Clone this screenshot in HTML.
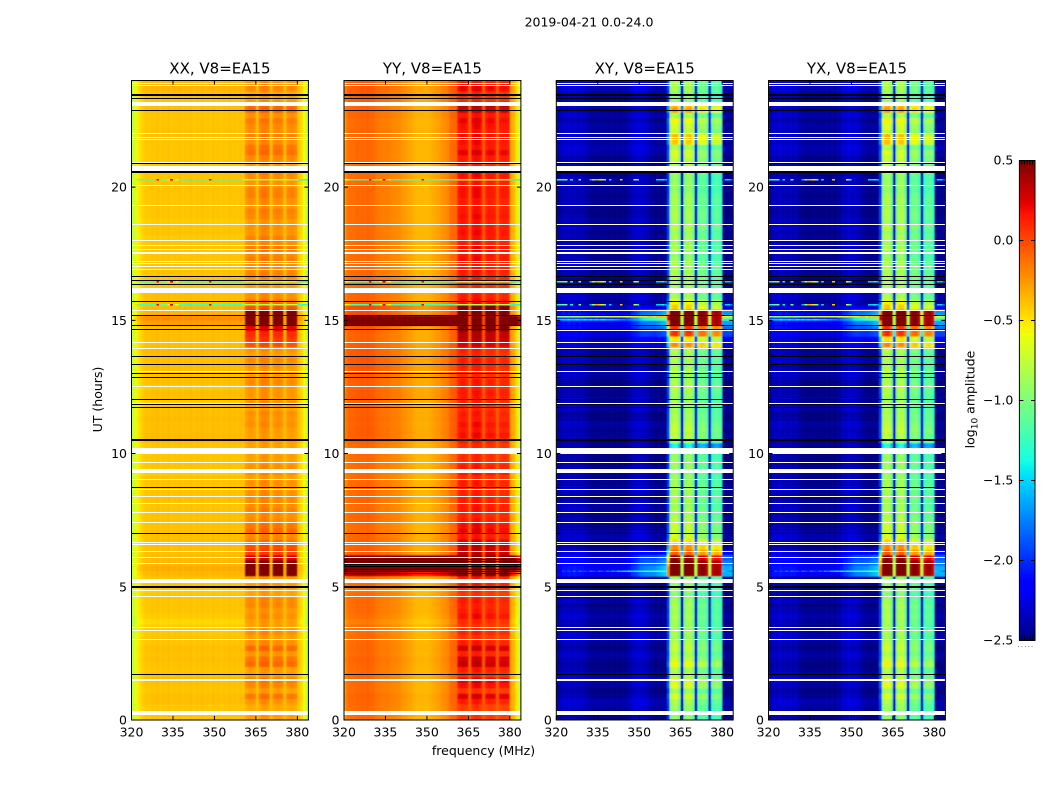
<!DOCTYPE html>
<html lang="en">
<head>
<meta charset="utf-8">
<title>2019-04-21 0.0-24.0</title>
<style>
html,body{margin:0;padding:0;background:#fff;width:1050px;height:800px;overflow:hidden}
svg{display:block}
text{font-family:"DejaVu Sans",sans-serif;fill:#000}
</style>
</head>
<body>
<svg id="chart" xmlns="http://www.w3.org/2000/svg" width="1050" height="800" viewBox="0 0 1050 800">
  <defs>
    <filter id="soft" x="-2%" y="-2%" width="104%" height="104%"><feGaussianBlur stdDeviation="0.5"/></filter>
  </defs>
  <text x="589" y="26.5" font-size="12.5" text-anchor="middle">2019-04-21 0.0-24.0</text>
  <text x="483.5" y="755" font-size="12.5" text-anchor="middle">frequency (MHz)</text>
  <text transform="translate(102,399.5) rotate(-90)" font-size="12.5" text-anchor="middle">UT (hours)</text>
  <text transform="translate(974.5,399.5) rotate(-90)" font-size="12.5" text-anchor="middle">log<tspan font-size="9" dy="3">10</tspan><tspan dy="-3"> amplitude</tspan></text>
  <g id="panels"></g>
  <g id="cbar"></g>
</svg>
<script>
/* ---------- axis tick data ---------- */
const freqTicks = [320, 335, 350, 365, 380];
const timeTicks = [0, 5, 10, 15, 20];
const cbarTicks = [-2.5, -2, -1.5, -1, -0.5, 0, 0.5];

/* ---------- mean spectra, log10 amplitude per 1 MHz bin from 320 MHz ---------- */
const spectrumXX = [
 -.76,-.64,-.52,-.46,-.42,-.40,-.41,-.39,-.40,-.38,
 -.41,-.39,-.40,-.38,-.41,-.39,-.40,-.38,-.41,-.39,
 -.40,-.38,-.41,-.39,-.40,-.38,-.40,-.39,-.41,-.38,
 -.40,-.39,-.41,-.39,-.40,-.38,-.40,-.39,-.40,-.38,
 -.40,-.36,-.32,-.32,-.34,-.38,-.32,-.28,-.28,-.30,
 -.38,-.34,-.31,-.31,-.34,-.38,-.34,-.32,-.32,-.36,
 -.40,-.46,-.58,-.74];
const spectrumYY = [
 -.22,-.13,-.12,-.12,-.10,-.10,-.09,-.10,-.08,-.10,
 -.10,-.14,-.15,-.16,-.17,-.16,-.18,-.20,-.20,-.21,
 -.22,-.26,-.27,-.29,-.30,-.34,-.35,-.35,-.35,-.36,
 -.35,-.33,-.31,-.29,-.28,-.24,-.22,-.20,-.12,-.10,
 -.08,.02,.05,.05,.02,-.06,.04,.08,.08,.04,
 -.06,.00,.03,.03,.00,-.06,.00,.02,.02,.00,
 -.30,-.36,-.50,-.72];
const spectrumXY = [
 -2.50,-2.42,-2.38,-2.40,-2.36,-2.40,-2.37,-2.40,-2.38,-2.40,
 -2.42,-2.46,-2.48,-2.50,-2.48,-2.50,-2.48,-2.50,-2.50,-2.50,
 -2.50,-2.50,-2.50,-2.50,-2.50,-2.48,-2.44,-2.38,-2.35,-2.34,
 -2.34,-2.36,-2.38,-2.42,-2.46,-2.50,-2.50,-2.50,-2.50,-2.50,
 -2.0,-1.00,-.90,-.90,-1.10,-2.40,-1.05,-.92,-.92,-1.10,
 -2.40,-1.20,-1.12,-1.12,-1.25,-2.40,-1.30,-1.20,-1.20,-1.30,
 -2.50,-2.50,-2.50,-2.50];
const spectrumYX = [
 -2.50,-2.40,-2.38,-2.38,-2.36,-2.40,-2.38,-2.40,-2.40,-2.40,
 -2.42,-2.48,-2.48,-2.50,-2.50,-2.50,-2.48,-2.50,-2.50,-2.50,
 -2.50,-2.50,-2.50,-2.50,-2.50,-2.46,-2.42,-2.38,-2.35,-2.34,
 -2.36,-2.36,-2.38,-2.44,-2.46,-2.50,-2.50,-2.50,-2.50,-2.50,
 -2.0,-1.00,-.88,-.88,-1.10,-2.40,-1.05,-.90,-.90,-1.10,
 -2.40,-1.20,-1.10,-1.10,-1.25,-2.40,-1.28,-1.18,-1.18,-1.30,
 -2.50,-2.50,-2.50,-2.50];

/* ---------- how strongly band activity reaches each frequency bin ---------- */
const bandWeightCo = [
 0,0,0,0,0,0,0,0,0,0, 0,0,0,0,0,0,0,0,0,0,
 0,0,0,0,0,0,0,0,0,0, 0,0,0,0,0,0,0,0,0,0,
 0,1,1,1,1,.1,1,1,1,1, .1,1,1,1,1,.1,1,1,1,1,
 0,0,0,0];
const bandWeightCross = [
 0,0,0,0,0,0,0,0,0,0, 0,0,0,0,0,0,0,0,0,0,
 0,0,0,0,0,0,0,0,0,0, 0,0,0,0,0,0,0,0,0,0,
 .5,1,1,1,1,1,1,1,1,1, 1,1,1,1,1,1,1,1,1,1,
 0,0,0,0];
const shoulderWeight = [
 .25,.25,.25,.25,.25,.25,.25,.25,.25,.25, .25,.25,.25,.25,.25,.25,.25,.25,.25,.25,
 .25,.25,.25,.25,.25,.3,.3,.35,.35,.4, .5,.55,.6,.65,.7,.75,.8,.85,.9,.95,
 1,0,0,0,0,0,0,0,0,0, 0,0,0,0,0,0,0,0,0,0,
 .85,.85,.85,.85];

/* ---------- activity per 0.2 h row, from UT 0 upward ---------- */
const bandRowXX = [
 .05,.00,.02,.08,.18,.04,.12,.16,.06,.05,
 .22,.18,.08,.22,.10,.05,.10,.05,.05,.10,
 .07,.12,.12,.04,.05,.06,.08,.85,.85,.85,
 .60,.35,.32,.18,.12,.22,.18,.12,.10,.14,
 .10,.12,.10,.08,.10,.05,.10,.10,.05,.05,
 .03,.04,.06,.05,.06,.10,.08,.10,.05,.10,
 .07,.08,.08,.12,.08,.05,.08,.12,.05,.08,
 .30,.38,.42,.55,.85,.85,.85,.30,.20,.10,
 .08,.06,.08,.14,.12,.10,.15,.12,.16,.10,
 .14,.08,.10,.06,.12,.14,.08,.10,.15,.14,
 .08,.10,.12,.06,.08,.12,.20,.18,.10,.15,
 .10,.12,.16,.08,.24,.22,.06,.02,.12,.10];
const bandRowYY = [
 .02,.00,.00,.10,.22,.02,.15,.20,.05,.10,
 .28,.24,.08,.25,.10,.02,.08,.02,.05,.15,
 .10,.08,.10,.02,.05,.10,.10,.55,.55,.50,
 .50,.28,.28,.20,.10,.18,.15,.10,.08,.12,
 .10,.10,.08,.08,.10,.04,.12,.10,.05,.05,
 .05,.04,.10,.15,.10,.14,.08,.10,.05,.08,
 .10,.12,.08,.10,.06,.06,.08,.10,.06,.08,
 .22,.30,.30,.55,.65,.65,.65,.55,.15,.10,
 .06,.05,.08,.10,.12,.10,.14,.12,.15,.10,
 .12,.14,.12,.10,.14,.12,.10,.10,.14,.14,
 .10,.12,.14,.10,.08,.12,.20,.12,.14,.15,
 .12,.15,.18,.12,.26,.30,.05,.05,.18,.12];
const bandRowCross = [
 .00,.00,.05,.10,.25,.05,.30,.25,.10,.10,
 .35,.20,.10,.20,.15,.05,.10,.05,.05,.10,
 .05,.10,.05,-.05,.05,.00,.05,1.6,1.6,1.6,
 1.4,.85,.70,.45,.25,.20,.20,.15,.10,.10,
 .05,.10,.05,.10,.05,.05,.00,.05,.05,.00,
 .00,-.45,.10,.15,.20,.15,.10,.10,.05,.10,
 .05,.10,.15,.10,.05,.15,.05,.10,.05,.15,
 .70,.40,1.0,1.0,1.6,1.6,1.6,.50,.35,.10,
 .05,.10,.10,.10,.10,.10,.05,.00,.10,.05,
 .10,.05,.15,.05,.10,.10,.05,.10,.05,.00,
 .05,.00,.05,.10,.15,.20,.25,.10,.50,.55,
 .20,.25,.35,.10,.65,.55,.00,.00,.10,.10];
const floorRowXX = [
 .00,.00,-.01,.02,.02,.00,.01,.02,.01,.00,
 .01,.02,.01,.02,.00,.00,-.01,-.02,-.06,-.02,
 .00,.00,.00,.00,-.02,.00,.00,.04,.08,.04,
 .03,.02,.02,.02,.02,.01,.01,.01,.01,.00,
 .00,.02,.00,.01,.00,.01,-.02,.00,.00,.00,
 .00,.00,.03,.03,.02,.02,.03,.02,.02,-.02,
 .02,.02,-.01,.02,.02,.01,.02,.02,.03,.04,
 .02,.02,.02,.03,.12,.18,.06,.03,.02,.02,
 .02,.00,.00,.00,.01,.00,.00,.00,.00,.00,
 -.02,.00,.00,-.02,.00,.00,.00,.00,.00,.00,
 .00,.00,.00,.00,.00,.00,.00,.00,.00,.02,
 .01,.00,.00,.00,.02,.02,.00,.02,.05,.05];
const floorRowYY = [
 .00,.00,.00,.01,.02,.00,.00,.01,.00,.00,
 .01,.02,.00,.01,.00,.00,-.01,-.02,-.06,-.02,
 .00,.00,.00,.00,-.03,.00,.00,.50,1.0,1.0,
 .85,.05,.03,.03,.02,.00,.00,.02,.02,.00,
 .00,.02,.00,.02,.00,.00,.00,.00,.00,.00,
 .00,.00,.03,.04,.04,.03,.04,.03,.03,.02,
 .05,.05,.03,.04,.05,.05,.06,.06,.06,.06,
 .05,.03,.03,.05,1.0,1.0,.10,.10,.02,.02,
 .02,.00,.00,.00,.00,.00,.00,.00,.00,.00,
 .00,.00,.00,.00,.00,.00,.00,.00,.00,.00,
 .00,.00,.00,.00,.00,.00,.00,.00,.00,.01,
 .01,.00,.00,.02,.02,.02,.04,.04,.05,.06];
const floorRowCross = [
 .00,.00,.08,.12,.05,.00,.05,.15,.10,.02,
 .00,.05,.08,.00,.05,.10,.10,.02,.05,.10,
 .05,.00,.08,.00,.02,.05,.00,.05,.05,.05,
 .05,.05,.00,.05,.10,.05,.02,.05,.00,.08,
 .05,.00,.02,.08,.02,.00,.05,.02,.00,.00,
 .05,.02,.00,.05,.02,.08,.00,-.02,.08,.03,
 .05,.02,.05,.00,.08,.05,.00,.08,.02,.05,
 .10,.05,.10,.10,.05,.10,.05,.10,.05,.10,
 .05,.02,.00,.02,.05,.10,.02,.05,.00,.05,
 .05,.02,.10,.05,.02,-.02,.02,.05,.02,.05,
 .02,.05,.00,-.02,.05,.02,.08,.12,.05,.10,
 .05,.10,.02,.10,.05,.12,.05,.08,.12,.10];
const shoulderRowCross = [
 0,0,0,0,0,0,0,0,0,0,
 0,0,0,0,0,0,0,0,0,0,
 0,0,0,0,0,0,.05,1.0,1.0,.8,
 .7,.3,.05,0,0,0,0,0,0,0,
 0,0,0,0,0,0,0,0,0,0,
 0,0,0,0,0,0,0,0,0,0,
 0,0,0,0,0,0,0,0,0,0,
 .15,.3,.55,.7,.95,1.5,.9,.2,0,0,
 0,0,0,0,0,0,0,0,0,0,
 0,0,0,0,0,0,0,0,0,0,
 0,0,0,0,0,0,0,0,0,0,
 0,0,0,0,0,0,0,0,0,0];

/* ---------- interference rows: UT hours and spectrum values ---------- */
const spikeHours = [20.27, 16.45, 15.58];
const spikeCo = [
 -.6,-.5,-1.1,-1.2,-1.2,-1.2,-1.2,-1.2,-1.2,.2,
 -1.2,-1.1,-1.1,-.6,.25,-1.0,-.6,-1.2,-1.2,-1.2,
 -1.3,-1.3,-1.2,-1.2,-1.2,-1.2,-1.2,-1.2,.2,-1.2,
 -1.2,-1.2,-1.2,-1.2,-1.2,-1.2,-1.2,-1.2,-1.2,-1.2,
 -1.0,-.8,-.8,-.8,-.8,-.8,-.8,-.8,-.8,-.8,
 -.8,-.8,-.8,-.8,-.8,-.8,-.8,-.8,-.8,-.8,
 -1.3,-1.3,-1.3,-1.3];
const spikeCross = [
 -1.4,-1.2,-1.1,-1.0,-2.4,-1.4,-2.4,-2.4,-1.0,-2.4,
 -2.4,-2.4,-1.6,-.9,-.3,-.4,-.7,-1.0,-2.2,-1.5,
 -2.4,-2.4,-2.4,-.4,-2.4,-2.4,-2.4,-2.4,-.6,-1.3,
 -2.4,-2.4,-2.4,-2.4,-2.4,-2.4,-1.5,-1.5,-1.4,-1.6,
 null,null,null,null,null,null,null,null,null,null,
 null,null,null,null,null,null,null,null,null,null,
 -2.0,-1.5,-1.5,-1.8];
const streakHours = [15.14, 15.02, 5.58];
const streakUpper = [
 -1.0,-1.0,-.9,-.9,-1.0,-.9,-.9,-.8,-.9,-.8,
 -.9,-.8,-.8,-.8,-.7,-.8,-.7,-.8,-.7,-.7,
 -.7,-.7,-.6,-.7,-.6,-.6,-.6,-.5,-.6,-.5,
 -.5,-.5,-.5,-.4,-.4,-.5,-.4,-.4,-.4,-.4,
 null,null,null,null,null,null,null,null,null,null,
 null,null,null,null,null,null,null,null,null,null,
 -.5,-.6,-.7,-.8];
const streakLower = [
 -1.6,-1.5,-1.5,-1.5,-1.4,-1.5,-1.5,-1.4,-1.5,-1.5,
 -1.4,-1.5,-1.4,-1.5,-1.4,-1.5,-1.4,-1.4,-1.5,-1.5,
 -1.5,-1.6,-1.6,-1.7,-1.7,-1.8,-1.7,-1.7,-1.6,-1.6,
 -1.5,-1.4,-1.4,-1.3,-1.3,-1.2,-1.2,-1.2,-1.1,-1.1,
 null,null,null,null,null,null,null,null,null,null,
 null,null,null,null,null,null,null,null,null,null,
 -1.3,-1.3,-1.4,-1.4];
const streakFive = [
 -2.3,-2.2,-1.9,-2.0,-1.9,-2.0,-1.8,-2.0,-1.8,-1.9,
 -1.9,-2.0,-1.8,-1.9,-2.0,-1.8,-1.9,-2.0,-1.8,-1.9,
 -1.7,-1.8,-1.6,-1.6,-1.5,-1.5,-1.4,-1.5,-1.4,-1.4,
 -1.4,-1.3,-1.3,-1.3,-1.3,-1.2,-1.2,-1.2,-1.2,-1.2,
 null,null,null,null,null,null,null,null,null,null,
 null,null,null,null,null,null,null,null,null,null,
 -1.5,-1.6,-1.7,-1.8];

/* ---------- flagged times, UT hours ---------- */
const whiteLines = [23.90,23.80,22.00,21.87,21.78,20.91,20.07,19.30,18.59,17.99,17.79,17.66,17.56,17.49,17.22,17.13,17.03,16.91,15.36,14.16,13.94,13.08,12.51,11.89,9.66,9.04,8.66,8.40,8.13,7.79,7.41,6.66,6.59,6.34,6.10,5.88,4.86,4.64,3.48,3.03];
const whiteBandStart = [23.025,20.63,16.02,9.99,9.26,5.14,3.31,1.47,0.19];
const whiteBandEnd = [23.19,20.81,16.20,10.21,9.41,5.29,3.36,1.54,0.34];
const whiteLinesCross = [14.62];
const blackLines = [23.49,23.42,23.34,22.89,20.88,16.66,16.50,16.35,15.72,15.20,14.79,14.65,13.64,13.34,12.99,12.86,12.03,11.85,11.73,9.02,8.73,8.38,7.00,1.71];
const blackBandStart = [20.53,10.44,4.96];
const blackBandEnd = [20.60,10.53,5.03];
const blackLinesYY = [6.03,5.96,5.84,5.75,5.66,5.59,5.51];

/* ---------- scales ---------- */
const NS = 'http://www.w3.org/2000/svg';
const freqMin = 320, freqMax = 384, timeMin = 0, timeMax = 24, rowHours = 0.2;
const plotTop = 80.5, plotBottom = 720, plotWidth = 176.9;
const vMin = -2.5, vMax = 0.5;
function yScale(t){ return plotBottom - (t - timeMin) / (timeMax - timeMin) * (plotBottom - plotTop); }
function makeXScale(left){ return f => left + (f - freqMin) / (freqMax - freqMin) * plotWidth; }
function lerpStops(p, stops){
  for (let i = 1; i < stops.length; i++) {
    if (p <= stops[i][0]) {
      const a = stops[i-1], b = stops[i];
      return a[1] + (b[1]-a[1]) * (p-a[0]) / (b[0]-a[0]);
    }
  }
  return stops[stops.length-1][1];
}
const jetR = [[0,0],[.35,0],[.66,1],[.89,1],[1,.5]];
const jetG = [[0,0],[.125,0],[.375,1],[.64,1],[.91,0],[1,0]];
const jetB = [[0,.5],[.11,1],[.34,1],[.65,0],[1,0]];
function colour(v){
  const p = Math.max(0, Math.min(1, (v - vMin) / (vMax - vMin)));
  const c = [jetR, jetG, jetB].map(s => Math.round(255 * lerpStops(p, s)));
  return 'rgb(' + c.join(',') + ')';
}
function node(tag, parent, attrs){
  const el = document.createElementNS(NS, tag);
  for (const k in attrs) el.setAttribute(k, attrs[k]);
  parent.appendChild(el);
  return el;
}

/* ---------- panels ---------- */
const panels = [
  {key:'xx', title:'XX, V8=EA15', left:131.5, spectrum:spectrumXX, bandWeight:bandWeightCo, bandRow:bandRowXX, floorRow:floorRowXX, shoulderRow:null, spikes:spikeCo, streaks:null, extraWhite:[], extraBlack:[]},
  {key:'yy', title:'YY, V8=EA15', left:344, spectrum:spectrumYY, bandWeight:bandWeightCo, bandRow:bandRowYY, floorRow:floorRowYY, shoulderRow:null, spikes:spikeCo, streaks:null, extraWhite:[], extraBlack:blackLinesYY},
  {key:'xy', title:'XY, V8=EA15', left:556.3, spectrum:spectrumXY, bandWeight:bandWeightCross, bandRow:bandRowCross, floorRow:floorRowCross, shoulderRow:shoulderRowCross, spikes:spikeCross, streaks:[streakUpper,streakLower,streakFive], extraWhite:whiteLinesCross, extraBlack:[]},
  {key:'yx', title:'YX, V8=EA15', left:768.5, spectrum:spectrumYX, bandWeight:bandWeightCross, bandRow:bandRowCross, floorRow:floorRowCross, shoulderRow:shoulderRowCross, spikes:spikeCross, streaks:[streakUpper,streakLower,streakFive], extraWhite:whiteLinesCross, extraBlack:[]}
];

function flagBar(group, x, w, t0, t1, fill){
  const y = Math.round(yScale(t1)), h = Math.max(1, Math.round(yScale(t0) - yScale(t1)));
  const r = node('rect', group, {x:x, y:y, width:w, height:h, fill:fill, 'shape-rendering':'crispEdges'});
  
  
}
function thinRow(group, xs, values, t){
  values.forEach((v, f) => {
    if (v === null) return;
    const x0 = xs(freqMin + f), x1 = xs(freqMin + f + 1), y = yScale(t);
    const r = node('rect', group, {x:x0, y:y - 0.75, width:x1 - x0, height:1.5, fill:colour(v), 'shape-rendering':'crispEdges'});
    
    
  });
}

const root = document.getElementById('panels');
panels.forEach(p => {
  const xs = makeXScale(p.left);
  const g = node('g', root, {});
  
  

  const clipId = 'clip-' + p.key;
  const clip = node('clipPath', g, {id:clipId});
  node('rect', clip, {x:p.left, y:plotTop, width:plotWidth, height:plotBottom - plotTop});

  const holder = node('g', g, {'clip-path':'url(#' + clipId + ')'});
  
  
  const cells = node('g', holder, {filter:'url(#soft)'});
  
  

  p.bandRow.forEach((_, r) => {
    const t0 = timeMin + r * rowHours, t1 = t0 + rowHours;
    p.spectrum.forEach((base, f) => {
      const w = p.bandWeight[f];
      let v = base + w * p.bandRow[r];
      if (w === 0) v += p.floorRow[r];
      if (p.shoulderRow) v += shoulderWeight[f] * p.shoulderRow[r];
      const x0 = xs(freqMin + f), x1 = xs(freqMin + f + 1), y = yScale(t1);
      const c = document.createElementNS(NS, 'rect');
      c.setAttribute('x', x0);
      c.setAttribute('y', y);
      c.setAttribute('width', x1 - x0 + 0.3);
      c.setAttribute('height', yScale(t0) - y + 0.3);
      c.setAttribute('fill', colour(v));
      
      
      cells.appendChild(c);
    });
  });

  const overlay = node('g', holder, {});
  
  
  spikeHours.forEach(t => thinRow(overlay, xs, p.spikes, t));
  if (p.streaks) p.streaks.forEach((s, i) => thinRow(overlay, xs, s, streakHours[i]));
  const thin = 0.018;
  blackLines.concat(p.extraBlack).forEach(t => flagBar(overlay, p.left, plotWidth, t - thin, t + thin, '#000'));
  blackBandStart.forEach((t, i) => flagBar(overlay, p.left, plotWidth, t, blackBandEnd[i], '#000'));
  whiteLines.concat(p.extraWhite).forEach(t => flagBar(overlay, p.left, plotWidth, t - thin, t + thin, '#fff'));
  whiteBandStart.forEach((t, i) => flagBar(overlay, p.left, plotWidth, t, whiteBandEnd[i], '#fff'));

  const frame = node('rect', g, {x:p.left, y:plotTop, width:plotWidth, height:plotBottom - plotTop, fill:'none', stroke:'#000', 'stroke-width':1});
  
  

  freqTicks.forEach(f => {
    const x = xs(f);
    const a = node('path', g, {d:'M' + x + ' ' + plotBottom + 'v-4M' + x + ' ' + plotTop + 'v4', stroke:'#000', 'stroke-width':1, fill:'none'});
    
    
    const l = node('text', g, {x:x, y:plotBottom + 16.5, 'font-size':12.5, 'text-anchor':'middle'});
    
    
    l.textContent = f;
  });
  timeTicks.forEach(t => {
    const y = yScale(t);
    const a = node('path', g, {d:'M' + p.left + ' ' + y + 'h4M' + (p.left + plotWidth) + ' ' + y + 'h-4', stroke:'#000', 'stroke-width':1, fill:'none'});
    
    
    const l = node('text', g, {x:p.left - 4.5, y:y + 4.5, 'font-size':12.5, 'text-anchor':'end'});
    
    
    l.textContent = t;
  });
  const title = node('text', g, {x:p.left + plotWidth / 2, y:73.5, 'font-size':15, 'text-anchor':'middle'});
  
  
  title.textContent = p.title;
});

/* ---------- colorbar ---------- */
const cb = document.getElementById('cbar');
const cbLeft = 1019.4, cbWidth = 15.6, cbTop = 160.5, cbBottom = 640.5, cbSteps = 240;
function cbY(v){ return cbBottom - (v - vMin) / (vMax - vMin) * (cbBottom - cbTop); }
for (let i = 0; i < cbSteps; i++) {
  const v0 = vMin + (vMax - vMin) * i / cbSteps, v1 = vMin + (vMax - vMin) * (i + 1) / cbSteps;
  const seg = node('rect', cb, {x:cbLeft, y:cbY(v1), width:cbWidth, height:cbY(v0) - cbY(v1) + 0.4, fill:colour((v0 + v1) / 2), 'shape-rendering':'crispEdges'});
  
  
}
const cbFrame = node('rect', cb, {x:cbLeft, y:cbTop, width:cbWidth, height:cbBottom - cbTop, fill:'none', stroke:'#000', 'stroke-width':1});


cbarTicks.forEach(v => {
  const y = cbY(v);
  const a = node('path', cb, {d:'M' + cbLeft + ' ' + y + 'h4M' + (cbLeft + cbWidth) + ' ' + y + 'h-4', stroke:'#000', 'stroke-width':1, fill:'none'});
  
  
  const l = node('text', cb, {x:cbLeft - 6, y:y + 4, 'font-size':12.5, 'text-anchor':'end'});
  
  
  l.textContent = v.toFixed(1).replace('-', '\u2212');
});
[0.15, 0.32, 0.5, 0.67, 0.84].forEach(frac => {
  const x = cbLeft + frac * cbWidth;
  const a = node('path', cb, {d:'M' + x + ' ' + cbTop + 'v4M' + x + ' ' + cbBottom + 'v-4', stroke:'#000', 'stroke-width':1, fill:'none'});
  
  
});
const dots = node('line', cb, {x1:1018, x2:1035, y1:646.5, y2:646.5, stroke:'#888', 'stroke-width':1, 'stroke-dasharray':'1 2.4'});


</script>
</body>
</html>
